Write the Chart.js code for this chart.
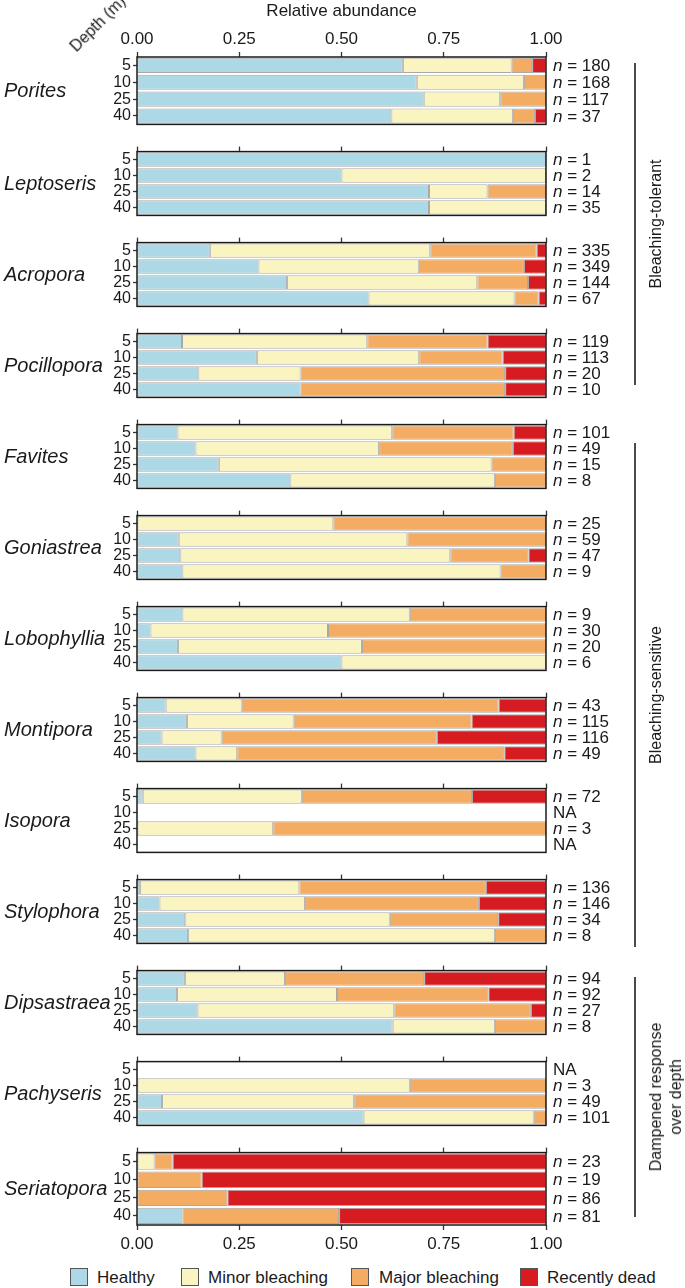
<!DOCTYPE html>
<html>
<head>
<meta charset="utf-8">
<script src="https://cdn.jsdelivr.net/npm/chart.js@4/dist/chart.umd.min.js"></script>
<style>
  body { margin: 0; width: 685px; height: 1288px; position: relative; overflow: hidden; background: #fff;
         font-family: 'Liberation Sans', Arial, sans-serif; color: #1a1a1a; }
  canvas { position: absolute; left: 0; }
  .rot { position: absolute; white-space: nowrap; transform: translate(-50%, -50%) rotate(-90deg); font-size: 16px; text-align: center; line-height: 20px; }
  .bracket { position: absolute; left: 634px; width: 2px; background: #4a4a4a; }
  .key { position: absolute; top: 1268px; width: 18px; height: 18px; border: 1px solid #555; box-sizing: border-box; }
  .keytxt { position: absolute; top: 1268px; font-size: 17px; line-height: 19px; }
</style>
</head>
<body>
<div id="wrap"></div>
<script>
// one panel per genus, rows are depths
const depths = ['5', '10', '25', '40'];
const genera = ['Porites', 'Leptoseris', 'Acropora', 'Pocillopora', 'Favites', 'Goniastrea', 'Lobophyllia',
  'Montipora', 'Isopora', 'Stylophora', 'Dipsastraea', 'Pachyseris', 'Seriatopora'];
const categories = ['Healthy', 'Minor bleaching', 'Major bleaching', 'Recently dead'];
const colors = ['#add8e6', '#faf5c0', '#f4ab62', '#d61c20'];
const xTicks = [0, 0.25, 0.5, 0.75, 1];

// proportions per genus, per depth (null = NA)
const healthy = [
  [0.650, 0.684, 0.701, 0.622], [1, 0.5, 0.714, 0.714], [0.178, 0.297, 0.367, 0.566], [0.110, 0.293, 0.15, 0.40],
  [0.099, 0.143, 0.2, 0.375], [0, 0.102, 0.106, 0.111], [0.111, 0.033, 0.10, 0.5], [0.070, 0.122, 0.060, 0.143],
  [0.014, null, 0, null], [0.007, 0.055, 0.118, 0.125], [0.117, 0.098, 0.148, 0.625], [null, 0, 0.061, 0.554],
  [0, 0, 0, 0.111]
];
const minor = [
  [0.266, 0.262, 0.187, 0.297], [0, 0.5, 0.143, 0.286], [0.539, 0.392, 0.465, 0.357], [0.453, 0.397, 0.25, 0],
  [0.525, 0.449, 0.667, 0.5], [0.48, 0.559, 0.66, 0.778], [0.556, 0.434, 0.45, 0.5], [0.186, 0.261, 0.147, 0.102],
  [0.389, null, 0.333, null], [0.390, 0.356, 0.5, 0.75], [0.245, 0.391, 0.481, 0.25], [null, 0.667, 0.470, 0.416],
  [0.043, 0, 0, 0]
];
const major = [
  [0.050, 0.054, 0.112, 0.054], [0, 0, 0.143, 0], [0.260, 0.257, 0.124, 0.059], [0.294, 0.204, 0.5, 0.5],
  [0.297, 0.327, 0.133, 0.125], [0.52, 0.339, 0.191, 0.111], [0.333, 0.533, 0.45, 0], [0.628, 0.435, 0.526, 0.653],
  [0.416, null, 0.667, null], [0.456, 0.425, 0.265, 0.125], [0.34, 0.37, 0.334, 0.125], [null, 0.333, 0.469, 0.030],
  [0.044, 0.158, 0.221, 0.383]
];
const dead = [
  [0.034, 0, 0, 0.027], [0, 0, 0, 0], [0.023, 0.054, 0.044, 0.018], [0.143, 0.106, 0.10, 0.10],
  [0.079, 0.082, 0, 0], [0, 0, 0.043, 0], [0, 0, 0, 0], [0.116, 0.182, 0.267, 0.102],
  [0.181, null, 0, null], [0.147, 0.164, 0.117, 0], [0.298, 0.141, 0.037, 0], [null, 0, 0, 0],
  [0.913, 0.842, 0.779, 0.506]
];
const nCounts = [
  [180, 168, 117, 37], [1, 2, 14, 35], [335, 349, 144, 67], [119, 113, 20, 10],
  [101, 49, 15, 8], [25, 59, 47, 9], [9, 30, 20, 6], [43, 115, 116, 49],
  [72, null, 3, null], [136, 146, 34, 8], [94, 92, 27, 8], [null, 3, 49, 101],
  [23, 19, 86, 81]
];
const groups = [
  { text: 'Bleaching-tolerant', top: 63, bottom: 385 },
  { text: 'Bleaching-sensitive', top: 443, bottom: 947 },
  { text: 'Dampened response<br>over depth', top: 977, bottom: 1217 }
];

const FONT = "'Liberation Sans', Arial, sans-serif";
const PANEL_TOP = 57, PANEL_STEP = 91, PANEL_H = 76;

function makePanel(k) {
  const first = k === 0, last = k === genera.length - 1;
  const topH = first ? 57 : 8;
  const botH = last ? 34 : 3;
  const canvas = document.createElement('canvas');
  canvas.width = 685;
  canvas.height = topH + PANEL_H + botH;
  canvas.style.top = (PANEL_TOP + PANEL_STEP * k - topH) + 'px';
  document.getElementById('wrap').appendChild(canvas);

  const series = [healthy[k], minor[k], major[k], dead[k]];
  const decor = {
    id: 'decor',
    afterDraw(chart) {
      const { ctx, chartArea: a, scales } = chart;
      ctx.save();
      ctx.strokeStyle = '#1a1a1a';
      ctx.lineWidth = 1.5;
      ctx.strokeRect(a.left, a.top, a.right - a.left, a.bottom - a.top);
      ctx.fillStyle = '#1a1a1a';
      ctx.textBaseline = 'middle';
      ctx.font = 'italic 20px ' + FONT;
      ctx.fillText(genera[k], 4, (a.top + a.bottom) / 2 + 1);
      nCounts[k].forEach((n, i) => {
        const y = scales.y.getPixelForValue(i) + 1;
        let x = a.right + 7;
        if (n === null) {
          ctx.font = '17px ' + FONT;
          ctx.fillText('NA', x, y);
          return;
        }
        ctx.font = 'italic 17px ' + FONT;
        ctx.fillText('n', x, y);
        x += ctx.measureText('n').width;
        ctx.font = '17px ' + FONT;
        ctx.fillText(' = ' + n, x, y);
      });
      ctx.restore();
    }
  };

  const scales = {
    x: {
      type: 'linear', position: 'top', min: 0, max: 1, stacked: true,
      afterBuildTicks: s => { s.ticks = xTicks.map(v => ({ value: v })); },
      afterFit: s => { s.height = topH; },
      grid: { display: true, drawOnChartArea: false, tickLength: 5, tickColor: '#333', tickWidth: 1.3 },
      border: { display: false },
      ticks: { display: first, padding: 2, color: '#1a1a1a', font: { size: 17, family: FONT },
               maxRotation: 0, callback: v => v.toFixed(2) },
      title: { display: first, text: 'Relative abundance', color: '#1a1a1a', padding: { top: 1, bottom: 0 },
               font: { size: 17, family: FONT } }
    },
    y: {
      type: 'category', labels: depths, stacked: true, offset: true,
      afterFit: s => { s.width = 137; },
      grid: { display: true, drawOnChartArea: false, offset: false, tickLength: 4, tickColor: '#333', tickWidth: 1.3 },
      border: { display: false },
      ticks: { autoSkip: false, padding: 2, color: '#1a1a1a', font: { size: 16, family: FONT } }
    }
  };
  if (last) {
    scales.xb = {
      type: 'linear', axis: 'x', position: 'bottom', min: 0, max: 1,
      afterBuildTicks: s => { s.ticks = xTicks.map(v => ({ value: v })); },
      afterFit: s => { s.height = botH; },
      grid: { display: true, drawOnChartArea: false, tickLength: 5, tickColor: '#333', tickWidth: 1.3 },
      border: { display: false },
      ticks: { padding: 4, color: '#1a1a1a', font: { size: 17, family: FONT }, maxRotation: 0,
               callback: v => v.toFixed(2) }
    };
  }

  new Chart(canvas.getContext('2d'), {
    type: 'bar',
    data: {
      labels: depths,
      datasets: categories.map((c, j) => ({
        label: c,
        data: series[j],
        backgroundColor: colors[j],
        borderColor: 'rgba(110,110,110,0.6)',
        borderWidth: 1,
        borderSkipped: false,
        barPercentage: 0.9,
        categoryPercentage: 1
      }))
    },
    options: {
      indexAxis: 'y',
      responsive: false,
      animation: false,
      layout: { padding: { left: 0, right: 139, top: 0, bottom: last ? 0 : botH } },
      plugins: { legend: { display: false }, tooltip: { enabled: false } },
      scales
    },
    plugins: [decor]
  });
}

genera.forEach((g, k) => makePanel(k));

// group brackets on the right
groups.forEach(g => {
  const line = document.createElement('div');
  line.className = 'bracket';
  line.style.top = g.top + 'px';
  line.style.height = (g.bottom - g.top) + 'px';
  document.body.appendChild(line);
  const lab = document.createElement('div');
  lab.className = 'rot';
  lab.innerHTML = g.text;
  lab.style.left = (g.text.includes('<br>') ? 666 : 656) + 'px';
  lab.style.top = ((g.top + g.bottom) / 2) + 'px';
  document.body.appendChild(lab);
});

// depth label
const depthLab = document.createElement('div');
depthLab.textContent = 'Depth (m)';
depthLab.style.cssText = 'position:absolute;left:98px;top:24px;font-size:16px;white-space:nowrap;transform:translate(-50%,-50%) rotate(-45deg);';
document.body.appendChild(depthLab);

// legend
const keyX = [70, 181, 351, 520];
const txtX = [97, 208, 379, 547];
categories.forEach((c, j) => {
  const sq = document.createElement('div');
  sq.className = 'key';
  sq.style.left = keyX[j] + 'px';
  sq.style.background = colors[j];
  document.body.appendChild(sq);
  const t = document.createElement('div');
  t.className = 'keytxt';
  t.style.left = txtX[j] + 'px';
  t.textContent = c;
  document.body.appendChild(t);
});
</script>
</body>
</html>
